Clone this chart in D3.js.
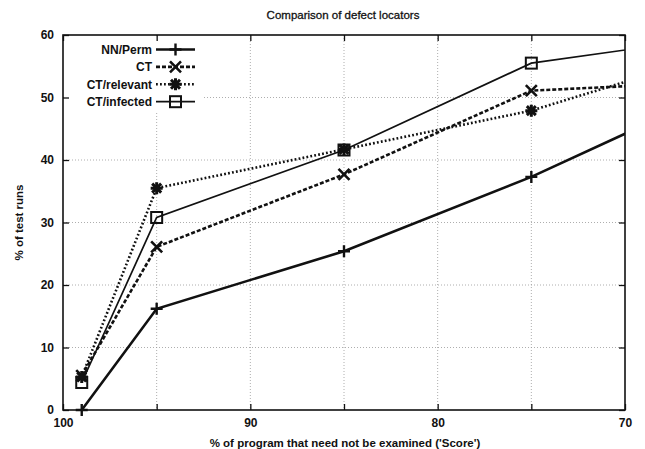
<!DOCTYPE html>
<html><head><meta charset="utf-8">
<script src="https://cdn.jsdelivr.net/npm/d3@7"></script>
<style>body{margin:0;background:#fff}svg{display:block}text{font-family:"Liberation Sans",Arial,sans-serif;fill:#111}</style>
</head><body><svg id="c" width="645" height="449"></svg>
<script>
const title = "Comparison of defect locators";
const xLabel = "% of program that need not be examined ('Score')";
const yLabel = "% of test runs";
const xValues = [99, 95, 85, 75, 65];
const nnPerm = [0, 16.2, 25.4, 37.3, 51.1];
const ct = [5.5, 26.1, 37.7, 51.1, 52.5];
const ctRelevant = [5.3, 35.5, 41.7, 47.9, 57.1];
const ctInfected = [4.4, 30.8, 41.6, 55.5, 59.7];
const seriesNames = ["NN/Perm", "CT", "CT/relevant", "CT/infected"];
const xTicks = [100, 95, 90, 85, 80, 75, 70];
const xTickLabels = [100, 90, 80, 70];
const yTicks = [0, 10, 20, 30, 40, 50, 60];

const L = 63, R = 625, T = 35, B = 410;
const svg = d3.select("#c");
const x = d3.scaleLinear().domain([100, 70]).range([L, R]);
const y = d3.scaleLinear().domain([0, 60]).range([B, T]);

// grid
const grid = svg.append("g").attr("stroke", "#999").attr("stroke-width", 0.8).attr("stroke-dasharray", "1,2");
xTicks.filter(v => v < 100 && v > 70).forEach(v => grid.append("line").attr("x1", x(v)).attr("x2", x(v)).attr("y1", T).attr("y2", B));
yTicks.filter(v => v > 0 && v < 60).forEach(v => grid.append("line").attr("y1", y(v)).attr("y2", y(v)).attr("x1", L).attr("x2", R));

// legend background mask
svg.append("rect").attr("x", L + 1).attr("y", T + 1).attr("width", 140).attr("height", 76).attr("fill", "#fff");

// axes (inward ticks, mirrored)
const fmt = d => xTickLabels.includes(d) ? d : "";
const axB = d3.axisBottom(x).tickValues(xTicks).tickSize(-6).tickPadding(8).tickFormat(fmt);
const axT = d3.axisTop(x).tickValues(xTicks).tickSize(-6).tickFormat("");
const axL = d3.axisLeft(y).tickValues(yTicks).tickSize(-6).tickPadding(9);
const axR = d3.axisRight(y).tickValues(yTicks).tickSize(-6).tickFormat("");
function style(g) {
  g.select(".domain").remove();
  g.selectAll(".tick line").attr("stroke", "#111").attr("stroke-width", 1.3);
  g.selectAll(".tick text").attr("font-size", 12).attr("font-weight", "bold").attr("fill", "#111")
   .style("font-family", '"Liberation Sans",Arial,sans-serif');
}
svg.append("g").attr("transform", `translate(0,${B})`).call(axB).call(style);
svg.append("g").attr("transform", `translate(0,${T})`).call(axT).call(style);
svg.append("g").attr("transform", `translate(${L},0)`).call(axL).call(style);
svg.append("g").attr("transform", `translate(${R},0)`).call(axR).call(style);
svg.append("rect").attr("x", L).attr("y", T).attr("width", R - L).attr("height", B - T)
  .attr("fill", "none").attr("stroke", "#111").attr("stroke-width", 1.6);

// series
const styles = [
  {data: nnPerm, w: 2.6, dash: null, marker: "plus"},
  {data: ct, w: 2.6, dash: "4,2", marker: "cross"},
  {data: ctRelevant, w: 2.6, dash: "1.8,2.2", marker: "star"},
  {data: ctInfected, w: 1.7, dash: null, marker: "square"}
];
svg.append("clipPath").attr("id", "clip").append("rect").attr("x", L).attr("y", T - 8).attr("width", R - L).attr("height", B - T + 16);
const plot = svg.append("g").attr("clip-path", "url(#clip)");
const line = d3.line().x((d, i) => x(xValues[i])).y(d => y(d));

function marker(g, type, cx, cy) {
  const s = 6;
  if (type === "plus" || type === "star") {
    g.append("path").attr("d", `M${cx - s},${cy}H${cx + s}M${cx},${cy - s}V${cy + s}`).attr("stroke", "#111").attr("stroke-width", type === "star" ? 3 : 2.4).attr("fill", "none");
  }
  if (type === "cross" || type === "star") {
    const k = type === "star" ? 4.5 : 5.5;
    g.append("path").attr("d", `M${cx - k},${cy - k}L${cx + k},${cy + k}M${cx - k},${cy + k}L${cx + k},${cy - k}`).attr("stroke", "#111").attr("stroke-width", type === "star" ? 3 : 2.6).attr("fill", "none");
  }
  if (type === "star") {
    g.append("circle").attr("cx", cx).attr("cy", cy).attr("r", 3).attr("fill", "#111");
  }
  if (type === "square") {
    g.append("rect").attr("x", cx - 5.5).attr("y", cy - 5.5).attr("width", 11).attr("height", 11).attr("fill", "none").attr("stroke", "#111").attr("stroke-width", 2);
  }
}

styles.forEach(st => {
  plot.append("path").datum(st.data).attr("d", line).attr("fill", "none").attr("stroke", "#111")
    .attr("stroke-width", st.w).attr("stroke-dasharray", st.dash);
  st.data.forEach((v, i) => { if (xValues[i] >= 70) marker(plot, st.marker, x(xValues[i]), y(v)); });
});

// legend
const lg = svg.append("g");
seriesNames.forEach((name, i) => {
  const yy = 49.5 + i * 17.4;
  lg.append("text").attr("x", 152).attr("y", yy).attr("dy", "0.35em").attr("text-anchor", "end")
    .attr("font-size", 12).attr("font-weight", "bold").text(name);
  lg.append("line").attr("x1", 156).attr("x2", 195).attr("y1", yy).attr("y2", yy).attr("stroke", "#111")
    .attr("stroke-width", styles[i].w).attr("stroke-dasharray", styles[i].dash);
  marker(lg, styles[i].marker, 175.5, yy);
});

// titles
svg.append("text").attr("x", 343).attr("y", 19).attr("text-anchor", "middle").attr("font-size", 11.5).attr("stroke", "#111").attr("stroke-width", 0.3).text(title);
svg.append("text").attr("x", 345).attr("y", 447).attr("text-anchor", "middle").attr("font-size", 11.5).attr("font-weight", "bold").text(xLabel);
svg.append("text").attr("transform", `translate(23,${(T + B) / 2}) rotate(-90)`).attr("text-anchor", "middle").attr("font-size", 11.5).attr("font-weight", "bold").text(yLabel);
</script></body></html>
